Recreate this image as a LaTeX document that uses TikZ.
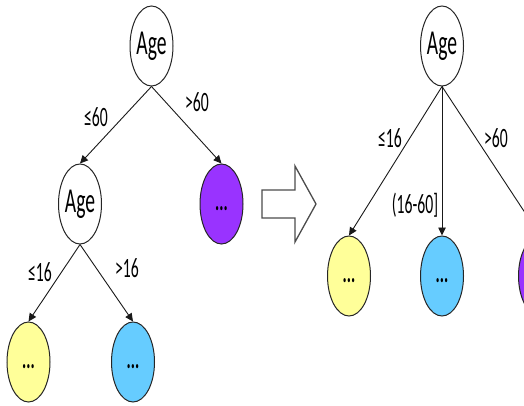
\documentclass[tikz,border=0pt]{standalone}
\usepackage{fontspec}
\usetikzlibrary{shapes.geometric,arrows.meta}
\newfontfamily\narrowfont{Carlito}[FakeStretch=0.56]
\definecolor{leafyellow}{RGB}{255,255,153}
\definecolor{leafblue}{RGB}{102,204,255}
\definecolor{leafpurple}{RGB}{153,51,255}
\tikzset{
  nd/.style={ellipse, draw=black!85, line width=1pt, inner sep=0pt,
             minimum width=43pt, minimum height=80pt, fill=white,
             font=\narrowfont\fontsize{35}{40}\selectfont},
  leaf/.style={nd, font=\narrowfont\bfseries\fontsize{28}{34}\selectfont},
  lbl/.style={font=\narrowfont\fontsize{28}{32}\selectfont, inner sep=0pt},
  link/.style={draw=black!90, line width=0.9pt, -{Triangle[length=8pt,width=7.5pt]}},
}
\begin{document}
\begin{tikzpicture}[x=1pt,y=-1pt]
\useasboundingbox (0,0) rectangle (524,406);
\clip (0,0) rectangle (524,406);

% left tree
\node[nd] (rootL) at (151.5,46) {Age};
\node[nd] (ageL) at (80,204) {Age};
\node[leaf, fill=leafpurple] (purL) at (221.5,204) {\vphantom{Ag}...};
\node[leaf, fill=leafyellow] (yelL) at (28.5,362) {\vphantom{Ag}...};
\node[leaf, fill=leafblue] (bluL) at (133,362) {\vphantom{Ag}...};

\draw[link] (rootL.south) -- (ageL.north);
\draw[link] (rootL.south) -- (purL.north);
\draw[link] (ageL.south) -- (yelL.north);
\draw[link] (ageL.south) -- (bluL.north);

\node[lbl] (l60) at (96,117) {≤60};
\node[lbl] (g60) at (197,102) {>60};
\node[lbl] (l16) at (40,272) {≤16};
\node[lbl] (g16) at (127,268) {>16};

% transformation arrow
\draw[black!70, line width=1.3pt, line join=miter]
  (262,190) -- (295,190) -- (295,166) -- (316,204) -- (295,242)
  -- (295,218) -- (262,218) -- cycle;

% right tree
\node[nd] (rootR) at (442,46) {Age};
\node[leaf, fill=leafyellow] (yelR) at (349,276) {\vphantom{Ag}...};
\node[leaf, fill=leafblue] (bluR) at (442,276) {\vphantom{Ag}...};
\node[leaf, fill=leafpurple] (purR) at (540,276) {};

\draw[link] (rootR.south) -- (yelR.north);
\draw[link] (rootR.south) -- (bluR.north);
\draw[link] (rootR.south) -- (purR.north);

\node[lbl] (rl16) at (390,138) {≤16};
\node[lbl] (rg60) at (496,138) {>60};
\node[lbl] (rmid) at (415,205) {(16-60]};
\end{tikzpicture}
\end{document}
